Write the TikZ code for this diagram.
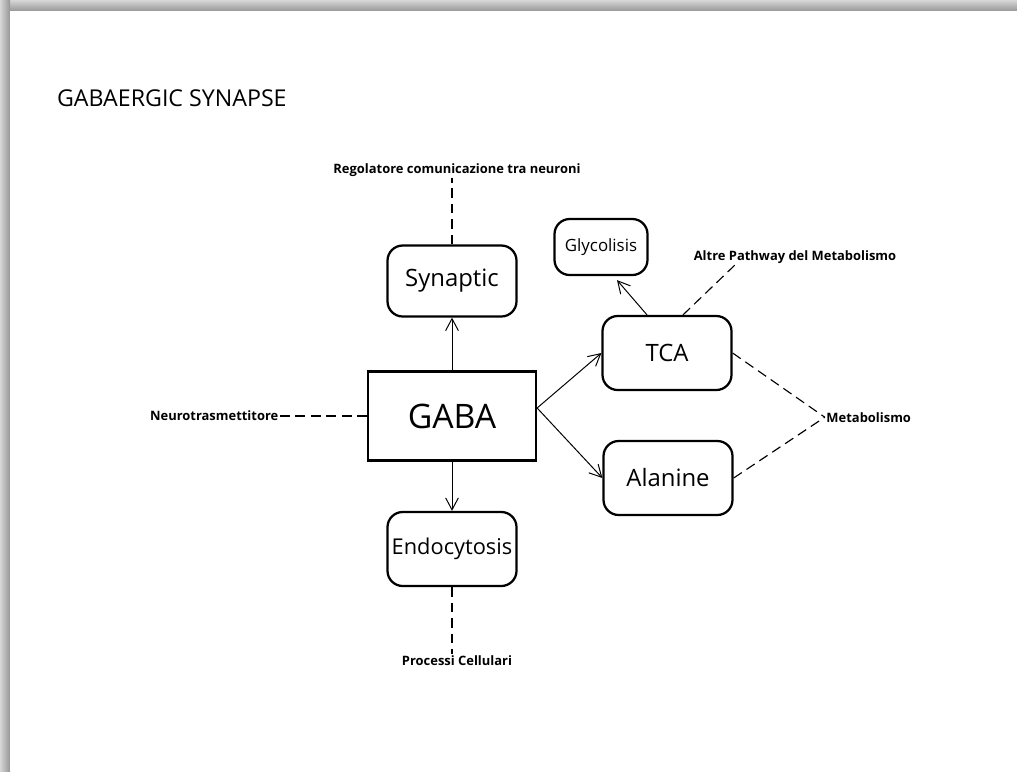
\documentclass[tikz,border=0pt]{standalone}
\usepackage{fontspec}
\setmainfont{Open Sans}
\usetikzlibrary{arrows.meta,positioning,calc}
\definecolor{shadowdark}{RGB}{150,150,150}
\definecolor{shadowlight}{RGB}{215,215,215}

\begin{document}
\begin{tikzpicture}[
    every node/.style={font=\small},
    block/.style={draw, line width=1.6pt, rounded corners=0.38cm, minimum width=3.225cm, minimum height=1.85cm, align=center},
    core/.style={draw, line width=1.6pt, minimum width=4.2cm, minimum height=2.225cm},
    note/.style={font=\fontsize{9.2}{10}\selectfont\bfseries, inner sep=1pt},
    link/.style={-{Straight Barb[length=3mm,width=3.2mm]}, line width=0.7pt},
    hint/.style={dashed, dash pattern=on 7pt off 4pt, line width=0.8pt}
  ]
    \useasboundingbox (0,0) rectangle (25.425,-19.275);
    % page shadow at top and left
    \shade[top color=shadowlight, bottom color=shadowdark] (0,0) rectangle (25.425,-0.28);
    \shade[left color=shadowlight, right color=shadowdark] (0,0) rectangle (0.25,-19.275);
    \fill[white] (0.25,-0.28) rectangle (25.425,-19.275);
    % title
    \node[anchor=west, font=\fontsize{16.5}{19}\selectfont, inner sep=0pt] (title) at (1.42,-2.45) {GABAERGIC SYNAPSE};
    % main boxes
    \node[core, font=\fontsize{24}{28}\selectfont] (gaba) at (11.3,-10.4) {GABA};
    \node[block, minimum height=1.775cm, font=\fontsize{17}{19}\selectfont] (synaptic) at (11.3,-7.025) {Synaptic};
    \node[block, inner sep=1pt, font=\fontsize{15.5}{17}\selectfont] (endo) at (11.3,-13.725) {Endocytosis};
    \node[block, font=\fontsize{17}{19}\selectfont] (tca) at (16.675,-8.825) {TCA};
    \node[block, font=\fontsize{17}{19}\selectfont] (alanine) at (16.7,-11.95) {Alanine};
    \node[block, minimum width=2.325cm, minimum height=1.4cm, font=\fontsize{12}{14}\selectfont] (glyco) at (15.025,-6.175) {Glycolisis};
    % side notes
    \node[note] (regolatore) at (11.425,-4.25) {Regolatore comunicazione tra neuroni};
    \node[note] (altre) at (19.875,-6.42) {Altre Pathway del Metabolismo};
    \node[note, anchor=east] (neuro) at (7.0,-10.4) {Neurotrasmettitore};
    \node[note, anchor=west] (metab) at (20.62,-10.43) {Metabolismo};
    \node[note] (processi) at (11.425,-16.52) {Processi Cellulari};
    % arrows out of GABA
    \draw[link] (gaba) -- (synaptic);
    \draw[link] (gaba) -- (endo);
    \draw[link] ($(gaba.east)+(0,0.2)$) -- (tca.west);
    \draw[link] ($(gaba.east)+(0,0.2)$) -- (alanine.west);
    \draw[link] ($(tca.north)+(-0.5,0)$) -- ($(glyco.south)+(0.4,-0.1)$);
    % dashed annotations
    \draw[hint] (synaptic.north) -- (synaptic.north |- regolatore.south);
    \draw[hint] (endo.south) -- (endo.south |- processi.north);
    \draw[hint] (neuro.east) -- (gaba.west);
    \draw[hint] ($(tca.north)+(0.4,0)$) -- ($(altre.south)+(-1.5,0)$);
    \draw[hint] (tca.east) -- (metab.west);
    \draw[hint] (alanine.east) -- (metab.west);
\end{tikzpicture}
\end{document}
